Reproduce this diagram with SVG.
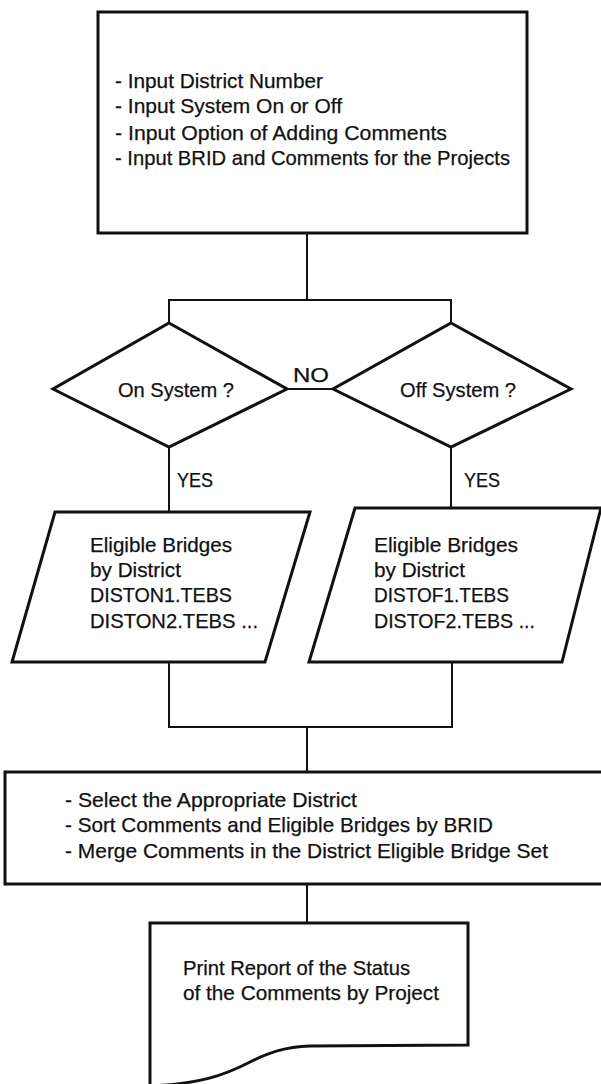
<svg xmlns="http://www.w3.org/2000/svg" width="601" height="1084" viewBox="0 0 601 1084">
  <style>
    .shape { fill: #ffffff; stroke: #111111; stroke-width: 3; stroke-linejoin: miter; }
    .link { fill: none; stroke: #111111; stroke-width: 2; }
    text { font-family: "Liberation Sans", Arial, sans-serif; font-size: 21px; fill: #111111; stroke: #111111; stroke-width: 0.25; }
  </style>
  <rect width="601" height="1084" fill="#ffffff"/>

  <!-- connectors -->
  <g id="connectors">
    <path class="link" d="M307,233 V300 M169,300 H451 M169,299 V323 M451,299 V323"/>
    <path class="link" d="M287,389 H333"/>
    <path class="link" d="M169,447 V512 M451,447 V508"/>
    <path class="link" d="M169,662 V727 M452,662 V727 M168,727 H453 M307,727 V772"/>
    <path class="link" d="M307,884 V923"/>
    <text x="293" y="382" textLength="36" lengthAdjust="spacingAndGlyphs">NO</text>
    <text x="177" y="487" textLength="36" lengthAdjust="spacingAndGlyphs">YES</text>
    <text x="464" y="487" textLength="36" lengthAdjust="spacingAndGlyphs">YES</text>
  </g>

  <!-- input step -->
  <g id="input">
    <rect class="shape" x="98" y="12" width="429" height="221"/>
    <text x="115" y="88" textLength="208" lengthAdjust="spacingAndGlyphs">- Input District Number</text>
    <text x="115" y="113" textLength="227" lengthAdjust="spacingAndGlyphs">- Input System On or Off</text>
    <text x="115" y="140" textLength="332" lengthAdjust="spacingAndGlyphs">- Input Option of Adding Comments</text>
    <text x="115" y="165" textLength="395" lengthAdjust="spacingAndGlyphs">- Input BRID and Comments for the Projects</text>
  </g>

  <!-- decisions -->
  <g id="on-system">
    <polygon class="shape" points="169,323 287,389 169,447 53,389"/>
    <text x="118" y="397" textLength="116" lengthAdjust="spacingAndGlyphs">On System ?</text>
  </g>
  <g id="off-system">
    <polygon class="shape" points="451,323 571,389 451,447 333,389"/>
    <text x="400" y="397" textLength="116" lengthAdjust="spacingAndGlyphs">Off System ?</text>
  </g>

  <!-- data sets -->
  <g id="on-data">
    <polygon class="shape" points="55,512 310,512 265,662 12,662"/>
    <text x="90" y="552" textLength="142" lengthAdjust="spacingAndGlyphs">Eligible Bridges</text>
    <text x="90" y="577" textLength="91" lengthAdjust="spacingAndGlyphs">by District</text>
    <text x="90" y="602" textLength="142" lengthAdjust="spacingAndGlyphs">DISTON1.TEBS</text>
    <text x="90" y="628" textLength="168" lengthAdjust="spacingAndGlyphs">DISTON2.TEBS ...</text>
  </g>
  <g id="off-data">
    <polygon class="shape" points="355,508 601,508 562,662 309,662"/>
    <text x="374" y="552" textLength="144" lengthAdjust="spacingAndGlyphs">Eligible Bridges</text>
    <text x="374" y="577" textLength="91" lengthAdjust="spacingAndGlyphs">by District</text>
    <text x="374" y="602" textLength="135" lengthAdjust="spacingAndGlyphs">DISTOF1.TEBS</text>
    <text x="374" y="628" textLength="161" lengthAdjust="spacingAndGlyphs">DISTOF2.TEBS ...</text>
  </g>

  <!-- merge step -->
  <g id="merge">
    <rect class="shape" x="5" y="772" width="610" height="112"/>
    <text x="65" y="807" textLength="292" lengthAdjust="spacingAndGlyphs">- Select the Appropriate District</text>
    <text x="65" y="832" textLength="428" lengthAdjust="spacingAndGlyphs">- Sort Comments and Eligible Bridges by BRID</text>
    <text x="65" y="858" textLength="483" lengthAdjust="spacingAndGlyphs">- Merge Comments in the District Eligible Bridge Set</text>
  </g>

  <!-- report document -->
  <g id="report">
    <path class="shape" d="M150,923 H468 V1045 L310,1046 C285,1047 270,1052 250,1062 C225,1075 200,1084 150,1086 Z"/>
    <text x="183" y="975" textLength="227" lengthAdjust="spacingAndGlyphs">Print Report of the Status</text>
    <text x="183" y="1000" textLength="256" lengthAdjust="spacingAndGlyphs">of the Comments by Project</text>
  </g>
</svg>
